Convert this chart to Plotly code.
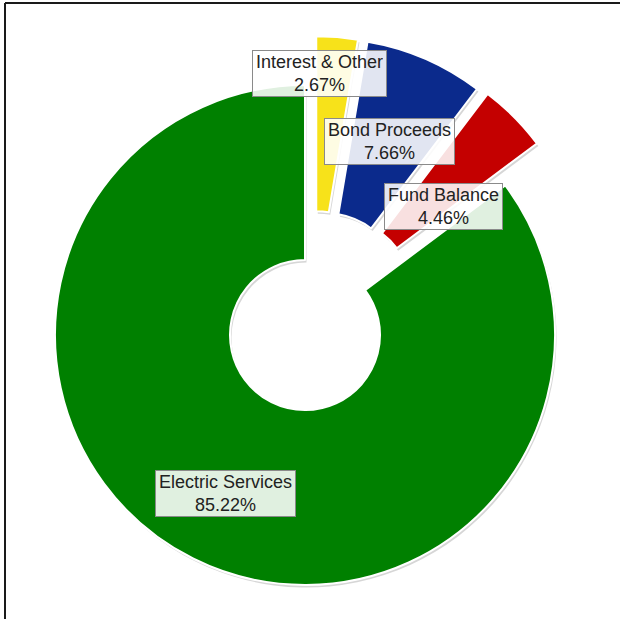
import math
import plotly.graph_objects as go

# ---- data ----
labels = ["Interest & Other", "Bond Proceeds", "Fund Balance", "Electric Services"]
shares = [2.67, 7.66, 4.46, 85.22]
colors = ["#f7e21a", "#0b2a8c", "#c40000", "#008000"]

# ---- layout / style ----
W, H = 620, 619
CX, CY, R = 305, 335, 250          # pie centre and radius in pixels
HOLE = 0.3
explode_dist = [0.20, 0.205, 0.21, 0.0]   # fraction of radius
explode_dir = [13, 24, 37, 0]             # degrees clockwise from 12 o'clock
label_pos = [(0.85, 1.0), (0.64, 23.5), (0.55, 51.0), (0.71, 206.5)]  # (radius frac, angle)
SHADOW_DX, SHADOW_DY = 1.5, 2.5


def domain(cx, cy):
    return dict(x=[(cx - R) / W, (cx + R) / W],
                y=[1 - (cy + R) / H, 1 - (cy - R) / H])


def centre(i):
    a = math.radians(explode_dir[i])
    d = explode_dist[i] * R
    return CX + d * math.sin(a), CY - d * math.cos(a)


def wedge_trace(i, col, line_w, dx=0.0, dy=0.0):
    cx, cy = centre(i)
    cols = ["rgba(0,0,0,0)"] * len(shares)
    cols[i] = col
    lw = [0] * len(shares)
    lw[i] = line_w
    return go.Pie(
        labels=labels, values=shares, sort=False, direction="clockwise",
        rotation=0, hole=HOLE, textinfo="none", hoverinfo="skip",
        showlegend=False, domain=domain(cx + dx, cy + dy),
        marker=dict(colors=cols, line=dict(color="white", width=lw)),
    )


fig = go.Figure()
# shadows first
for i in range(len(shares)):
    fig.add_trace(wedge_trace(i, "rgba(0,0,0,0.16)", 0, SHADOW_DX, SHADOW_DY))
# draw green first, then exploded wedges
for i in [3, 0, 1, 2]:
    fig.add_trace(wedge_trace(i, colors[i], 2))

annotations = []
for i, (lab, val) in enumerate(zip(labels, shares)):
    cx, cy = centre(i)
    rf, ang = label_pos[i]
    a = math.radians(ang)
    px = cx + rf * R * math.sin(a)
    py = cy - rf * R * math.cos(a)
    annotations.append(dict(
        x=px / W, y=1 - py / H, xref="paper", yref="paper",
        text=f"{lab}<br>{val:.2f}%", showarrow=False,
        font=dict(family="Liberation Sans, Arial, sans-serif", size=18, color="#222222"),
        bgcolor="rgba(255,255,255,0.88)", bordercolor="#8a8a8a", borderwidth=1,
        borderpad=3, height=39, xanchor="center", yanchor="middle",
    ))

shapes = [
    dict(type="line", xref="paper", yref="paper", x0=5 / W, x1=5 / W, y0=0, y1=1 - 3 / H,
         line=dict(color="#1a1a1a", width=2)),
    dict(type="line", xref="paper", yref="paper", x0=5 / W, x1=1, y0=1 - 3 / H, y1=1 - 3 / H,
         line=dict(color="#1a1a1a", width=2)),
]

fig.update_layout(
    width=W, height=H, margin=dict(l=0, r=0, t=0, b=0),
    paper_bgcolor="white", plot_bgcolor="white",
    annotations=annotations, shapes=shapes, showlegend=False,
)

fig.write_html("out.html")
